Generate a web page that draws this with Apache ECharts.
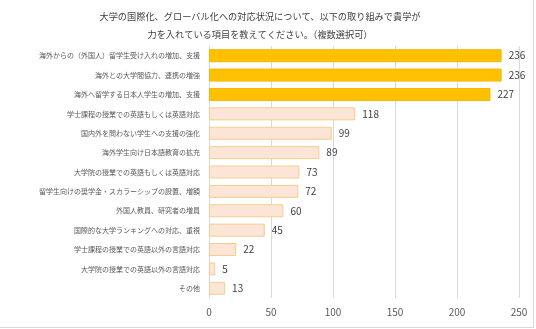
<!DOCTYPE html>
<html><head><meta charset="utf-8">
<script src="https://cdn.jsdelivr.net/npm/echarts@6/dist/echarts.min.js"></script>
<style>html,body{margin:0;padding:0;background:#fff}#c{position:absolute;left:0;top:0;width:533px;height:327px;border-right:1px solid #d9d9d9;border-bottom:1px solid #d9d9d9}</style>
</head><body><div id="c"></div>
<script>
const categories = [
 '海外からの（外国人）留学生受け入れの増加、支援',
 '海外との大学間協力、連携の増強',
 '海外へ留学する日本人学生の増加、支援',
 '学士課程の授業での英語もしくは英語対応',
 '国内外を問わない学生への支援の強化',
 '海外学生向け日本語教育の拡充',
 '大学院の授業での英語もしくは英語対応',
 '留学生向けの奨学金・スカラーシップの設置、増額',
 '外国人教員、研究者の増員',
 '国際的な大学ランキングへの対応、重視',
 '学士課程の授業での英語以外の言語対応',
 '大学院の授業での英語以外の言語対応',
 'その他'
];
const values = [236, 236, 227, 118, 99, 89, 73, 72, 60, 45, 22, 5, 13];
const highlightCount = 3;
const xTicks = [0, 50, 100, 150, 200, 250];
const titleLines = ['大学の国際化、グローバル化への対応状況について、以下の取り組みで貴学が', '力を入れている項目を教えてください。（複数選択可）'];

const font = '"Noto Sans CJK JP", sans-serif';
const chart = echarts.init(document.getElementById('c'));
chart.setOption({
  animation: false,
  title: {
    text: titleLines.join('\n'), left: 255, textAlign: 'center', top: 3,
    textStyle: {fontSize: 9.2, fontWeight: 'normal', color: '#404040', fontFamily: font, lineHeight: 18}
  },
  grid: {left: 209, right: 14, top: 46, bottom: 29, containLabel: false},
  xAxis: {
    type: 'value', min: xTicks[0], max: xTicks[xTicks.length-1], interval: 50,
    axisLine: {show: false}, axisTick: {show: false},
    splitLine: {lineStyle: {color: '#d9d9d9'}},
    axisLabel: {color: '#595959', fontSize: 10, fontFamily: font, margin: 9}
  },
  yAxis: {
    type: 'category', data: categories, inverse: true,
    axisLine: {show: false}, axisTick: {show: false},
    axisLabel: {color: '#595959', fontSize: 7, fontFamily: font, margin: 9}
  },
  series: [{
    type: 'bar', barCategoryGap: '33%',
    data: values.map((v, i) => ({
      value: v,
      itemStyle: i < highlightCount
        ? {color: '#FFC000', borderColor: '#F2B800', borderWidth: 1}
        : {color: '#FCE4D6', borderColor: '#F4CE8C', borderWidth: 1}
    })),
    label: {show: true, position: 'right', color: '#404040', fontSize: 10, fontFamily: font, distance: 7}
  }]
});
</script></body></html>
